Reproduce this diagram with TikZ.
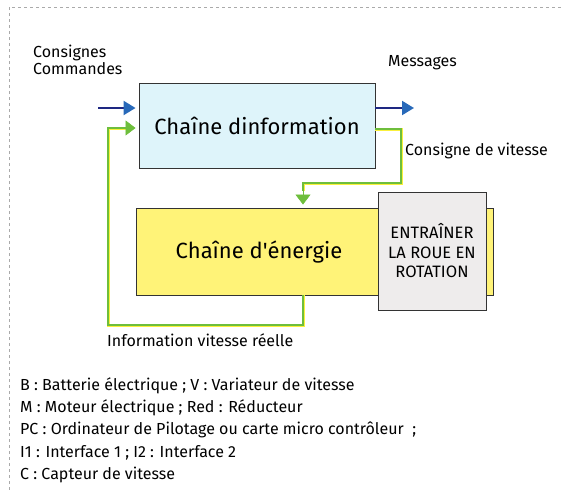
\documentclass[tikz,border=0pt]{standalone}
\usepackage{fontspec}
\setmainfont{Fira Sans}
\usetikzlibrary{arrows.meta,positioning,calc}
\definecolor{infofill}{RGB}{222,244,250}
\definecolor{energyfill}{RGB}{255,243,120}
\definecolor{taskfill}{RGB}{238,236,236}
\definecolor{navyline}{RGB}{30,40,130}
\definecolor{headblue}{RGB}{40,105,185}
\definecolor{fbgreen}{RGB}{110,190,60}
\definecolor{fbyellow}{RGB}{250,240,60}
\definecolor{framegray}{RGB}{170,170,170}

\begin{document}
\begin{tikzpicture}[x=1pt, y=-1pt,
  bloc/.style={draw=black!80, line width=0.9pt, inner sep=0pt},
  flux/.style={draw=navyline, line width=2.2pt, -{Triangle[length=12pt, width=14pt, color=headblue]}},
  liaison/.style={draw=fbgreen, line width=1.1pt, preaction={draw=fbyellow, line width=3pt}},
  pointe/.style={draw=fbgreen, line width=0.5pt, -{Triangle[length=10pt, width=15pt, color=fbgreen]}},
  txt/.style={font=\fontsize{16}{17}\selectfont, inner sep=0pt}
]
  \useasboundingbox (0,0) rectangle (566,490);
  % cadre
  \draw[framegray, dashed, line width=0.6pt] (9,490) -- (9,7) -- (562,7);

  % blocs
  \node[bloc, fill=infofill, minimum width=236pt, minimum height=85pt,
        font=\fontsize{22}{24}\selectfont] (info) at (257,125.5) {Chaîne dinformation};
  \node[bloc, fill=energyfill, minimum width=357pt, minimum height=87pt] (energie) at (314.5,251.5) {};
  \node[font=\fontsize{22}{24}\selectfont] (energietxt) at (259,252) {Chaîne d\textquotesingle énergie};
  \node[bloc, fill=taskfill, minimum width=108pt, minimum height=118pt, align=center,
        font=\fontsize{16.5}{19.5}\selectfont] (tache) at (432,251) {ENTRAÎNER\\LA ROUE EN\\ROTATION};

  % textes
  \node[txt, anchor=north west, align=left] (consignes) at (33,45) {Consignes\\Commandes};
  \node[txt, anchor=west] (messages) at (388,63) {Messages};
  \node[txt, anchor=west] (vitcons) at (405,151) {Consigne de vitesse};
  \node[txt, anchor=west] (vitreel) at (107,340) {Information vitesse réelle};
  \node[txt, anchor=north west, align=left, font=\fontsize{16}{22.4}\selectfont] (legende) at (20,377) {%
    B : Batterie électrique ; V : Variateur de vitesse\\
    M : Moteur électrique ; Red : Réducteur\\
    PC : Ordinateur de Pilotage ou carte micro contrôleur \ ;\\
    I1 : Interface 1 ; I2 : Interface 2\\
    C : Capteur de vitesse};

  % flux
  \coordinate (entree) at (98,108);
  \coordinate (sortie) at (414,108);
  \draw[flux] (entree) -- ($(info.west |- entree)+(-3,0)$);
  \draw[flux] (info.east |- sortie) -- (sortie);

  % consigne de vitesse
  \coordinate (c1) at (401,129);
  \coordinate (c2) at (401,183);
  \coordinate (c3) at (303,183);
  \draw[liaison] (info.east |- c1) -- (c1) -- (c2) -- (c3) -- ($(c3)+(0,8)$);
  \draw[pointe] ($(c3)+(0,6)$) -- ($(c3 |- energie.north)+(0,-3)$);

  % retour
  \coordinate (r1) at (303,325);
  \coordinate (r2) at (108,325);
  \coordinate (r3) at (108,128);
  \draw[liaison] (r1 |- energie.south) -- (r1) -- (r2) -- (r3) -- ($(info.west |- r3)+(-10,0)$);
  \draw[pointe] ($(info.west |- r3)+(-13,0)$) -- ($(info.west |- r3)+(-3,0)$);
\end{tikzpicture}
\end{document}
